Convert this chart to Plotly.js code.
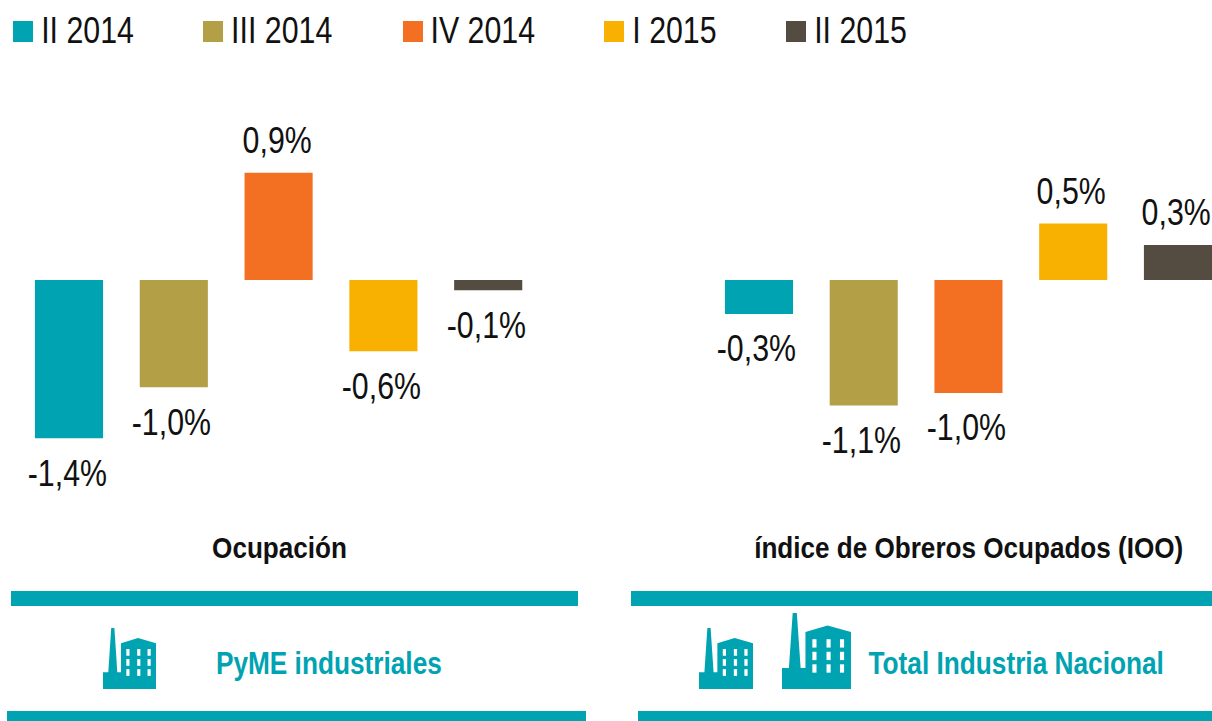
<!DOCTYPE html>
<html><head><meta charset="utf-8">
<script src="https://cdn.plot.ly/plotly-3.0.1.min.js"></script>
<style>html,body{margin:0;padding:0;background:#fff;overflow:hidden}</style>
</head><body><div id="chart" style="width:1212px;height:721px"></div>
<script>
const periods = ['II 2014','III 2014','IV 2014','I 2015','II 2015'];
const colors = ['#00A3B1','#B39F45','#F37023','#F8B100','#544B41'];
const ocupacionValues = [-1.4,-0.95,0.95,-0.63,-0.09];
const ocupacionLabels = ['-1,4%','-1,0%','0,9%','-0,6%','-0,1%'];
const iooValues = [-0.30,-1.11,-1.0,0.50,0.31];
const iooLabels = ['-0,3%','-1,1%','-1,0%','0,5%','0,3%'];
const legendX = [13,203,403,604,786];
const legendTextX = [87.5,281,482.5,674.5,860.5];
const W=1212,H=721;
const FONT='"Liberation Sans",Arial,sans-serif';
const TEAL='#00A3B1';
const px=x=>x/W, py=y=>1-y/H;
const rect=(x0,y0,x1,y1,c)=>({type:'rect',xref:'paper',yref:'paper',x0:px(x0),x1:px(x1),y0:py(y0),y1:py(y1),fillcolor:c,line:{width:0},layer:'above'});
function icon(x,y,w,h){
  const X=u=>x+u*w, Y=v=>y+v*h;
  const pts=[[0,1],[0,.725],[.1,.725],[.155,0],[.215,0],[.27,.725],[.34,.725],[.34,.25],[.66,.165],[1,.25],[1,1]];
  const d=pts.map((p,i)=>(i?'L':'M')+px(X(p[0]))+' '+py(Y(p[1]))).join(' ')+' Z';
  const s=[{type:'path',xref:'paper',yref:'paper',path:d,fillcolor:TEAL,line:{width:0},layer:'above'}];
  [.44,.645,.84].forEach(a=>[.345,.51,.675].forEach(b=>{
    s.push(rect(X(a),Y(b),X(a+.06),Y(b+.11),'#fff'));
  }));
  return s;
}
const shapes=[
  rect(11,591,578,606,TEAL),rect(631,591,1212,606,TEAL),
  rect(7,711,586,721,TEAL),rect(638,711,1212,721,TEAL),
  ...icon(103,628,53,61),...icon(699,628,54,61),...icon(782,613,69,76)
];
const annotations=[];
const condense=[];
const txt=(x,y,t,size,color,bold,squeeze)=>{condense.push(squeeze);annotations.push({xref:'paper',yref:'paper',x:px(x),y:py(y),text:bold?'<b>'+t+'</b>':t,showarrow:false,xanchor:'center',yanchor:'middle',font:{family:FONT,size:size,color:color},borderpad:0,borderwidth:0});};
periods.forEach((p,i)=>{
  shapes.push(rect(legendX[i],21,legendX[i]+20,42,colors[i]));
  txt(legendTextX[i],31,p,37,'#111',false,.82);
});
txt(279,547,'Ocupación',30,'#111',true,.87);
txt(968.5,547,'índice de Obreros Ocupados (IOO)',30,'#111',true,.87);
txt(328.5,663,'PyME industriales',32,TEAL,true,.82);
txt(1015.5,663,'Total Industria Nacional',32,TEAL,true,.82);
const label=(vals,labels,xa,ya)=>vals.forEach((v,i)=>{
  condense.push(.82);
  annotations.push({xref:xa,yref:ya,x:periods[i],y:v,text:labels[i],showarrow:false,xanchor:'center',yanchor:'middle',
    xshift:-2,yshift:v<0?-35:32,font:{family:FONT,size:37,color:'#111'},borderpad:0,borderwidth:0});
});
label(ocupacionValues,ocupacionLabels,'x','y');
label(iooValues,iooLabels,'x2','y2');
const bar=(vals,xa,ya)=>({type:'bar',x:periods,y:vals,xaxis:xa,yaxis:ya,cliponaxis:false,
  marker:{color:colors,line:{width:0}},hoverinfo:'x+y',showlegend:false});
const yr=[-(520-280)/113,(280-100)/113];
const hiddenX=(dom,r)=>({domain:dom,range:r,type:'category',categoryorder:'array',categoryarray:periods,visible:false,fixedrange:true});
const hiddenY=(anchor)=>({domain:[py(520),py(100)],range:yr,visible:false,anchor:anchor,fixedrange:true});
Plotly.newPlot('chart',[bar(ocupacionValues,'x','y'),bar(iooValues,'x2','y2')],{
  width:W,height:H,margin:{l:0,r:0,t:0,b:0},paper_bgcolor:'#fff',plot_bgcolor:'#fff',bargap:0.35,
  xaxis:hiddenX([px(16.6),px(540.6)],[-0.5,4.5]),yaxis:hiddenY('x'),
  xaxis2:hiddenX([px(706.6),1],[-0.5,4.325]),yaxis2:hiddenY('x2'),
  shapes,annotations
},{displayModeBar:false,staticPlot:true}).then(gd=>{
  // the reference uses a narrow face: condense each text group horizontally, keeping it real text
  document.querySelectorAll('#chart .annotation').forEach((g)=>{
    const i=+g.getAttribute('data-index');
    const tg=g.querySelector('.annotation-text-g');
    if(tg&&condense[i]) {
      const bb=tg.getBBox();
      const cx=bb.x+bb.width/2;
      const old=tg.getAttribute('transform')||'';
      tg.setAttribute('transform',old+' translate('+cx+' 0) scale('+condense[i]+' 1) translate('+(-cx)+' 0)');
    }
  });
});
</script></body></html>
